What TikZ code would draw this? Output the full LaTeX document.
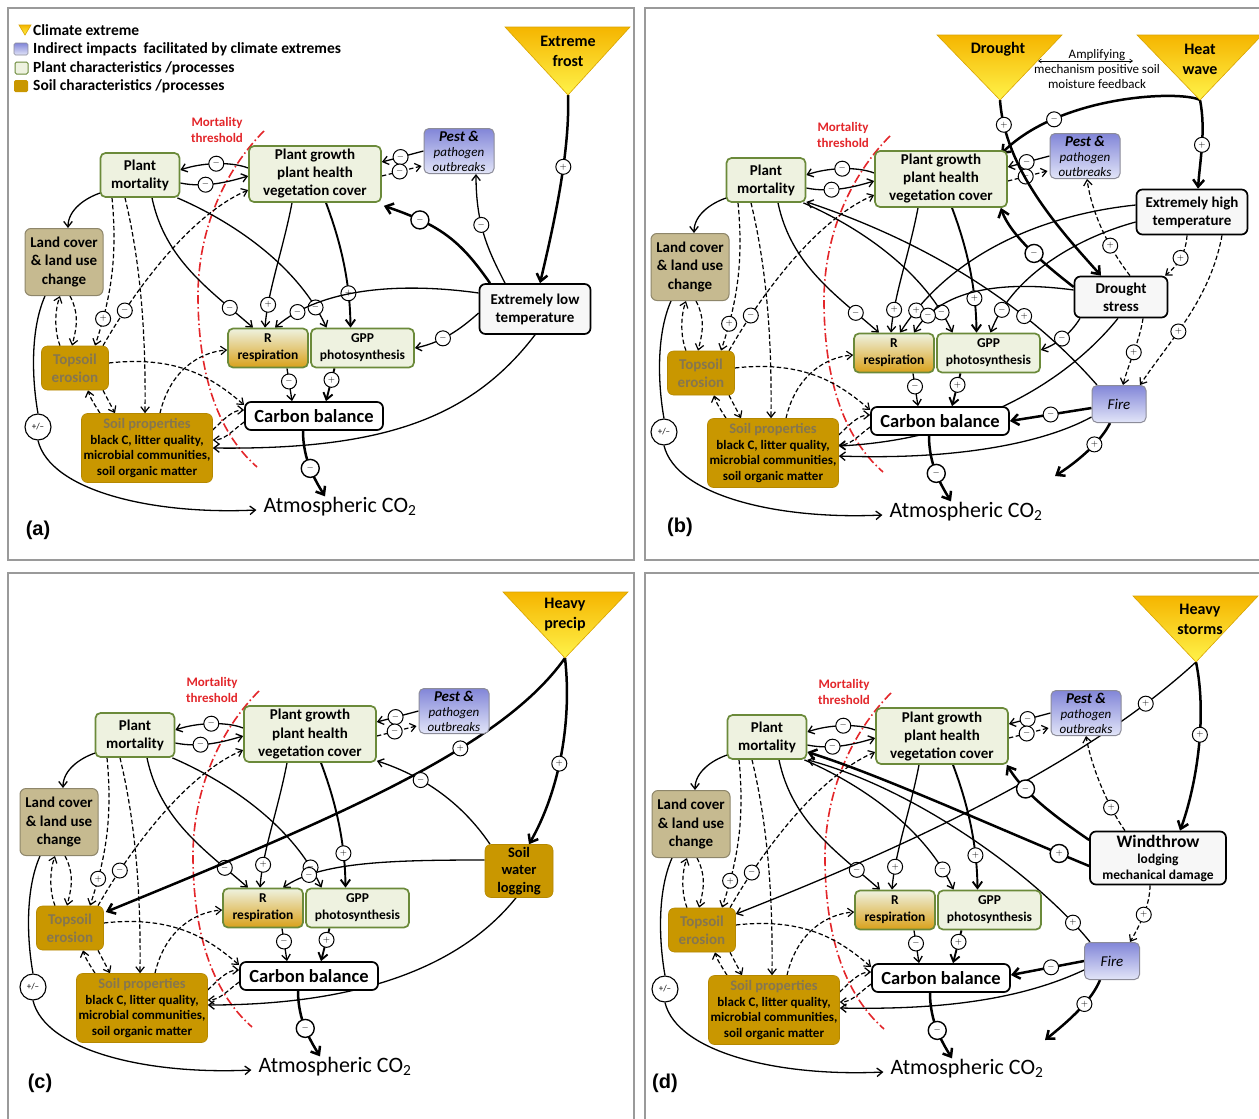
\documentclass[tikz,border=0pt]{standalone}
\usepackage{fontspec}
\setmainfont{Carlito}
\newfontfamily\lblfont{Liberation Sans}
\usetikzlibrary{arrows.meta}
\pgfdeclarelayer{bg}
\pgfsetlayers{bg,main}
\newcommand\fsz[2]{\fontsize{#1}{#2}\selectfont}
\definecolor{plantfill}{HTML}{EEF2E0}
\definecolor{plantdraw}{HTML}{6B8A3A}
\definecolor{soilfill}{HTML}{C99700}
\definecolor{soiltxt}{HTML}{857650}
\definecolor{landfill}{HTML}{C6BA90}
\definecolor{landdraw}{HTML}{8E866A}
\definecolor{pesttop}{HTML}{8286D8}
\definecolor{pestbot}{HTML}{E2E5F8}
\definecolor{pestdraw}{HTML}{8C8C99}
\definecolor{trtop}{HTML}{F5B500}
\definecolor{trbot}{HTML}{FFF34A}
\definecolor{trdraw}{HTML}{D9A400}
\definecolor{mred}{HTML}{E3262A}
\definecolor{rbot}{HTML}{D9A11A}
\definecolor{framec}{HTML}{9A9A9A}
\tikzset{
 plant/.style={draw=plantdraw, line width=1.7pt, fill=plantfill, rounded corners=5pt, align=center, font=\fsz{15}{18}\bfseries, inner sep=1pt},
 respb/.style={plant, fill=none, top color=plantfill, middle color=plantfill, bottom color=rbot},
 soilb/.style={fill=soilfill, draw=soilfill!90!black, line width=0.6pt, rounded corners=6pt, align=center, font=\fsz{15}{18}\bfseries, inner sep=1pt},
 landb/.style={fill=landfill, draw=landdraw, line width=1pt, rounded corners=6pt, align=center, font=\fsz{15}{18.5}\bfseries, inner sep=1pt},
 pestb/.style={top color=pesttop, bottom color=pestbot, draw=pestdraw, line width=1pt, rounded corners=5pt, align=center, font=\fsz{13}{15}, inner sep=0pt},
 whiteb/.style={draw=black, line width=1.7pt, rounded corners=6pt, fill=white!97!black, align=center, font=\fsz{15}{18}\bfseries, inner sep=1pt},
 trtxt/.style={align=center, font=\fsz{16}{20}\bfseries, inner sep=0pt},
 arr/.style={line width=1.3pt, -{Straight Barb[length=5.5pt,width=8.5pt]}},
 darr/.style={arr, line width=1.2pt, dash pattern=on 4.5pt off 2.5pt},
 marr/.style={line width=1.9pt, -{Straight Barb[length=6.5pt,width=9.5pt]}},
 tarr/.style={line width=2.5pt, -{Straight Barb[length=7pt,width=11pt]}},
 ln/.style={line width=1.3pt},
 sgn/.style={circle, draw=black, fill=white, solid, line width=1pt, inner sep=0pt, minimum size=15pt, font=\fsz{9}{9}},
 sgnL/.style={sgn, minimum size=18pt, line width=1.4pt},
 mline/.style={draw=mred, line width=1.6pt, dash pattern=on 9pt off 3pt on 1.5pt off 3pt},
 frame/.style={draw=framec, line width=1.6pt},
 legt/.style={anchor=west, font=\fsz{15.5}{17}\bfseries, inner sep=0pt},
 lbl/.style={font=\lblfont\bfseries\fsz{20}{22}, inner sep=0pt}
}
\newcommand\basepanel[1]{%
 \node[plant,minimum width=79pt,minimum height=44pt] (#1-pm) at (140,175) {Plant\\mortality};
 \node[plant,minimum width=132pt,minimum height=56pt] (#1-pg) at (315,174) {Plant growth\\plant health\\vegetation cover};
 \node[pestb,minimum width=70pt,minimum height=45pt] (#1-pest) at (459,151) {{\fsz{15}{15}\bfseries\itshape Pest \&}\\\textit{pathogen}\\\textit{outbreaks}};
 \node[landb,minimum width=78pt,minimum height=67pt] (#1-lc) at (64,262) {Land cover\\\& land use\\change};
 \node[soilb,text=soiltxt,minimum width=67pt,minimum height=44pt] (#1-te) at (75,368) {Topsoil\\erosion};
 \node[soilb,minimum width=131pt,minimum height=69pt,font=\fsz{13}{15.5}\bfseries] (#1-sp) at (147,448) {{\color{soiltxt}\fsz{14.5}{15.5}Soil properties}\\black C, litter quality,\\microbial communities,\\soil organic matter};
 \node[respb,minimum width=80pt,minimum height=39pt,font=\fsz{13.5}{17}\bfseries] (#1-r) at (268,348) {R\\respiration};
 \node[plant,minimum width=103pt,minimum height=39pt,font=\fsz{13.5}{17}\bfseries] (#1-gpp) at (362.5,348) {GPP\\photosynthesis};
 \node[whiteb,fill=white,minimum width=138pt,minimum height=28pt,font=\fsz{18.5}{20}\bfseries] (#1-cb) at (314,416) {Carbon balance};
 \node[font=\fsz{22}{24},inner sep=1pt] (#1-atm) at (340,507) {Atmospheric CO\textsubscript{2}};
 \node[circle,draw=black,fill=white,line width=1.1pt,minimum size=26pt,inner sep=0pt,font=\fsz{9}{9}] (#1-pmsign) at (38,427) {+/--};
 \node[text=mred,font=\fsz{13}{15.5}\bfseries,align=center,inner sep=0pt] (#1-mt) at (217,130) {Mortality\\threshold};
 \begin{pgfonlayer}{bg}
 \draw[mline] (264,131) .. controls (225,170) and (197,230) .. (198,300) .. controls (199,370) and (215,430) .. (257,467);
 \draw[arr] ([yshift=6pt]#1-pg.west) .. controls (230,161) and (200,163) .. ([yshift=5pt]#1-pm.east) node[sgn,pos=.48]{$-$};
 \draw[arr] ([yshift=-8pt]#1-pm.east) .. controls (205,188) and (228,182) .. ([yshift=-2pt]#1-pg.west) node[sgn,pos=.35]{$-$};
 \draw[arr] ([xshift=1pt,yshift=5pt]#1-pm.south west) .. controls (85,198) and (68,210) .. ([xshift=4pt]#1-lc.north);
 \draw[darr] ([xshift=-28pt]#1-pm.south) .. controls (118,260) and (110,300) .. ([xshift=20pt]#1-te.north) node[sgn,pos=.8]{$+$};
 \draw[darr] ([xshift=-15pt]#1-pm.south) .. controls (140,260) and (146,330) .. ([xshift=-2pt]#1-sp.north);
 \draw[darr] ([xshift=28pt]#1-te.north) .. controls (135,290) and (190,215) .. ([yshift=-16pt]#1-pg.west) node[sgn,pos=.2]{$-$};
 \draw[darr] ([xshift=6pt]#1-lc.south) .. controls (80,315) and (76,330) .. ([xshift=-3pt]#1-te.north);
 \draw[darr] ([xshift=-15pt]#1-te.north) .. controls (54,330) and (55,310) .. ([xshift=-4pt]#1-lc.south);
 \draw[darr] ([xshift=28pt]#1-te.south) -- ([xshift=-32pt]#1-sp.north);
 \draw[darr] ([xshift=-47pt]#1-sp.north) .. controls (95,405) and (90,398) .. ([xshift=13pt]#1-te.south);
 \draw[darr] ([yshift=5pt]#1-te.east) .. controls (180,355) and (215,380) .. ([yshift=11pt]#1-cb.west);
 \draw[darr] ([xshift=13pt]#1-sp.north) .. controls (170,370) and (200,352) .. ([yshift=-2pt]#1-r.west);
 \draw[darr] ([yshift=18pt]#1-sp.east) .. controls (225,418) and (233,410) .. ([yshift=6pt]#1-cb.west);
 \draw[darr] ([yshift=-6pt]#1-cb.west) .. controls (233,430) and (225,440) .. ([yshift=8pt]#1-sp.east);
 \draw[arr] ([xshift=12pt]#1-pm.south) .. controls (165,260) and (210,290) .. ([xshift=-15pt]#1-r.north) node[sgn,pos=.82]{$-$};
 \draw[arr] ([xshift=-3pt]#1-pm.south east) .. controls (240,225) and (300,270) .. ([xshift=-36pt]#1-gpp.north) node[sgn,pos=.88]{$-$};
 \draw[arr] ([xshift=-23pt]#1-pg.south) .. controls (283,250) and (268,290) .. ([xshift=-3pt]#1-r.north) node[sgn,pos=.8]{$+$};
 \draw[marr] ([xshift=11pt]#1-pg.south) .. controls (340,240) and (350,280) .. ([xshift=-12pt]#1-gpp.north) node[sgn,pos=.75]{$+$};
 \draw[arr] ([xshift=19pt]#1-r.south) -- ([xshift=-22pt]#1-cb.north) node[sgn,pos=.4]{$-$};
 \draw[marr] ([xshift=-28pt]#1-gpp.south) -- ([xshift=12pt]#1-cb.north) node[sgn,pos=.35]{$+$};
 \draw[tarr] ([xshift=-11pt]#1-cb.south) .. controls (303,460) and (315,480) .. ([xshift=-15pt]#1-atm.north) node[sgnL,pos=.5]{$-$};
 \draw[ln] ([xshift=-19pt]#1-lc.south) .. controls (30,330) and (32,380) .. (#1-pmsign.north);
 \draw[arr] (#1-pmsign.south) .. controls (50,490) and (150,515) .. ([xshift=-6pt,yshift=-3pt]#1-atm.west);
 \draw[arr] (#1-pest.west) -- ([yshift=12pt]#1-pg.east) node[sgn,pos=.55]{$-$};
 \draw[darr] ([yshift=-2pt]#1-pg.east) -- ([xshift=-2pt,yshift=-15pt]#1-pest.west) node[sgn,pos=.45]{$-$};
 \end{pgfonlayer}
}
\begin{document}
\begin{tikzpicture}[x=1pt,y=-1pt]
\useasboundingbox (0,0) rectangle (1259,1119);
\begin{pgfonlayer}{bg}\fill[white] (0,0) rectangle (1259,1119);\end{pgfonlayer}
\draw[frame] (8,8) rectangle (634,560);
\draw[frame] (645,8) rectangle (1264,560);
\draw[frame] (8,573) rectangle (634,1124);
\draw[frame] (645,573) rectangle (1264,1124);
% legend
\shade[top color=trtop,bottom color=trbot,draw=trdraw,line width=0.6pt] (19,25) -- (31,25) -- (25,35) -- cycle;
\node[legt] (leg1) at (33,30) {Climate extreme};
\shade[top color=pesttop,bottom color=pestbot,draw=pestdraw,line width=0.6pt,rounded corners=1.5pt] (14,43) rectangle (28,55);
\node[legt] (leg2) at (33,49) {Indirect impacts\ \ facilitated by climate extremes};
\draw[fill=plantfill,draw=plantdraw,line width=1pt,rounded corners=1.5pt] (15,62) rectangle (28,74);
\node[legt] (leg3) at (33,68) {Plant characteristics /processes};
\fill[soilfill,rounded corners=1.5pt] (14,80) rectangle (28,92);
\node[legt] (leg4) at (33,86) {Soil characteristics /processes};
% panels
\begin{scope}\basepanel{a}\end{scope}
\begin{scope}[shift={(626,5)}]\basepanel{b}\end{scope}
\begin{scope}[shift={(-5,560)}]\basepanel{c}\end{scope}
\begin{scope}[shift={(627,562)}]\basepanel{d}\end{scope}
\node[lbl] (lbla) at (38,530) {(a)};
\node[lbl] (lblb) at (680,527) {(b)};
\node[lbl] (lblc) at (40,1083) {(c)};
\node[lbl] (lbld) at (665,1083) {(d)};
% ---------- panel a
\shade[top color=trtop,bottom color=trbot,draw=trdraw,line width=0.6pt] (505,27) -- (630,27) -- (568,95) -- cycle;
\node[trtxt] (a-ext) at (568,51) {Extreme\\frost};
\coordinate (a-ap) at (568,95);
\node[whiteb,minimum width=111pt,minimum height=50pt] (a-elt) at (535,309) {Extremely low\\temperature};
\begin{pgfonlayer}{bg}
\draw[tarr] (a-ap) .. controls (570,150) and (555,220) .. ([xshift=5pt]a-elt.north) node[sgn,pos=.4]{$+$};
\draw[tarr] ([xshift=-45pt]a-elt.north) .. controls (460,240) and (440,225) .. ([xshift=2pt,yshift=-3pt]a-pg.south east) node[sgnL,pos=.75]{$-$};
\draw[arr] ([xshift=-30pt]a-elt.north) .. controls (488,250) and (476,225) .. ([xshift=17pt]a-pest.south) node[sgn,pos=.6]{$-$};
\draw[arr] ([yshift=16pt]a-elt.west) .. controls (400,282) and (320,288) .. ([xshift=7pt]a-r.north) node[sgn,pos=.85]{$-$};
\draw[arr] ([yshift=-4pt]a-elt.west) .. controls (465,325) and (445,342) .. (a-gpp.east) node[sgn,pos=.65]{$-$};
\draw[arr] (a-elt.south) .. controls (470,420) and (380,450) .. (a-sp.east);
\end{pgfonlayer}
% ---------- panel b
\shade[top color=trtop,bottom color=trbot,draw=trdraw,line width=0.6pt] (937,35) -- (1062,35) -- (1000,100) -- cycle;
\node[trtxt] (b-drt) at (998,49) {Drought};
\coordinate (b-dr) at (1000,100);
\shade[top color=trtop,bottom color=trbot,draw=trdraw,line width=0.6pt] (1137,35) -- (1262,35) -- (1200,100) -- cycle;
\node[trtxt] (b-hwt) at (1200,59) {Heat\\wave};
\coordinate (b-hw) at (1200,100);
\coordinate (b-amL) at (1038,61);
\coordinate (b-amR) at (1133,61);
\node[font=\fsz{13}{15},align=center,inner sep=0pt] (b-amp) at (1097,69) {Amplifying\\mechanism positive soil\\moisture feedback};
\draw[{Straight Barb[length=3pt,width=4pt]}-{Straight Barb[length=3pt,width=4pt]},line width=.6pt] (b-amL) -- (b-amR);
\node[whiteb,minimum width=111pt,minimum height=45pt] (b-eht) at (1192,212) {Extremely high\\temperature};
\node[whiteb,minimum width=93pt,minimum height=41pt] (b-ds) at (1121,297) {Drought\\stress};
\node[pestb,minimum width=54pt,minimum height=37pt,font=\fsz{15}{15}\itshape] (b-fire) at (1119,404) {Fire};
\coordinate (b-fco) at (1055,476);
\begin{pgfonlayer}{bg}
\draw[tarr] (b-dr) .. controls (1005,170) and (1060,230) .. ([xshift=-20pt]b-ds.north) node[sgn,pos=.12]{$+$};
\draw[tarr] (b-hw) .. controls (1206,130) and (1200,160) .. ([xshift=6pt]b-eht.north) node[sgn,pos=.5]{$+$};
\draw[tarr] (b-hw) .. controls (1180,90) and (1060,95) .. ([xshift=-7pt,yshift=-4pt]b-pg.north east) node[sgn,pos=.75]{$-$};
\draw[tarr] ([yshift=10pt]b-ds.west) .. controls (1045,265) and (1010,235) .. ([xshift=-7pt]b-pg.south east) node[sgnL,pos=.45]{$-$};
\draw[darr] ([xshift=9pt]b-ds.north) .. controls (1110,250) and (1092,215) .. ([xshift=2pt]b-pest.south) node[sgn,pos=.35]{$+$};
\draw[darr] ([xshift=-5pt]b-eht.south) .. controls (1186,255) and (1175,268) .. ([xshift=44pt]b-ds.north) node[sgn,pos=.45]{$+$};
\draw[darr] ([xshift=30pt]b-eht.south) .. controls (1210,300) and (1170,340) .. ([xshift=21pt]b-fire.north) node[sgn,pos=.6]{$+$};
\draw[darr] ([xshift=22pt]b-ds.south) .. controls (1140,340) and (1128,365) .. ([xshift=4pt]b-fire.north) node[sgn,pos=.5]{$+$};
\draw[arr] ([yshift=7pt]b-eht.west) .. controls (1040,215) and (950,255) .. ([xshift=6pt]b-r.north) node[sgn,pos=.9]{$+$};
\draw[arr] ([yshift=-10pt]b-eht.west) .. controls (1070,240) and (1010,280) .. ([xshift=2pt]b-gpp.north) node[sgn,pos=.85]{$-$};
\draw[arr] ([yshift=7pt]b-ds.west) .. controls (1000,280) and (940,290) .. ([xshift=20pt]b-r.north) node[sgn,pos=.85]{$-$};
\draw[arr] ([xshift=-41pt]b-ds.south) .. controls (1070,335) and (1055,345) .. ([yshift=3pt]b-gpp.east) node[sgn,pos=.5]{$-$};
\draw[arr] ([xshift=-3pt]b-ds.south) .. controls (1060,390) and (960,440) .. ([yshift=7pt]b-sp.east);
\draw[tarr] ([yshift=-4pt]b-fire.west) -- (b-cb.east) node[sgn,pos=.5]{$-$};
\draw[arr] ([yshift=-13pt]b-fire.west) .. controls (1040,445) and (950,460) .. ([yshift=-3pt]b-sp.east);
\draw[tarr] ([xshift=-9pt]b-fire.south) .. controls (1102,440) and (1080,460) .. (b-fco) node[sgn,pos=.4]{$+$};
\draw[arr] ([xshift=-22pt]b-fire.north) .. controls (1040,320) and (950,250) .. ([yshift=1pt]b-pm.south east) node[sgn,pos=.35]{$+$};
\end{pgfonlayer}
% ---------- panel c
\shade[top color=trtop,bottom color=trbot,draw=trdraw,line width=0.6pt] (503,592) -- (628,592) -- (565,658) -- cycle;
\node[trtxt] (c-hpt) at (565,615) {Heavy\\precip};
\coordinate (c-ap) at (565,658);
\node[soilb,minimum width=68pt,minimum height=53pt,font=\fsz{14.5}{17.5}\bfseries] (c-swl) at (519,871) {Soil\\water\\logging};
\begin{pgfonlayer}{bg}
\draw[tarr] (c-ap) .. controls (500,750) and (330,820) .. ([xshift=2pt,yshift=16pt]c-te.east) node[sgn,pos=.35]{$+$};
\draw[tarr] (c-ap) .. controls (572,720) and (560,790) .. ([xshift=10pt]c-swl.north) node[sgn,pos=.55]{$+$};
\draw[arr] ([xshift=-29pt]c-swl.north) .. controls (460,800) and (420,775) .. ([yshift=2pt]c-pg.south east) node[sgn,pos=.65]{$-$};
\draw[arr] ([yshift=11pt]c-swl.west) .. controls (390,860) and (320,862) .. ([xshift=20pt]c-r.north) node[sgn,pos=.8]{$-$};
\draw[arr] ([xshift=-3pt]c-swl.south) .. controls (450,980) and (330,1005) .. ([yshift=3pt]c-sp.east);
\end{pgfonlayer}
% ---------- panel d
\shade[top color=trtop,bottom color=trbot,draw=trdraw,line width=0.6pt] (1133,596) -- (1258,596) -- (1196,662) -- cycle;
\node[trtxt] (d-hst) at (1200,619) {Heavy\\storms};
\coordinate (d-ap) at (1196,662);
\node[whiteb,minimum width=136pt,minimum height=53pt,font=\fsz{13.5}{16}\bfseries] (d-wt) at (1158,858) {{\fsz{17.5}{18}Windthrow}\\lodging\\mechanical damage};
\node[pestb,minimum width=55pt,minimum height=37pt,font=\fsz{15}{15}\itshape] (d-fire) at (1112,961) {Fire};
\coordinate (d-fco) at (1045,1040);
\begin{pgfonlayer}{bg}
\draw[tarr] (d-ap) .. controls (1208,720) and (1195,790) .. ([xshift=22pt]d-wt.north) node[sgn,pos=.4]{$+$};
\draw[arr] (d-ap) .. controls (1100,750) and (950,830) .. ([yshift=16pt]d-te.east) node[sgn,pos=.16]{$+$};
\draw[tarr] ([yshift=18pt]d-wt.west) .. controls (1060,820) and (1025,795) .. ([xshift=-2pt]d-pg.south east) node[sgnL,pos=.72]{$-$};
\draw[tarr] ([yshift=-8pt]d-wt.west) .. controls (990,825) and (880,775) .. ([yshift=-15pt]d-pm.east) node[sgnL,pos=.1]{$+$};
\draw[arr] ([xshift=-22pt]d-fire.north) .. controls (1040,880) and (920,790) .. (d-pm.south east) node[sgn,pos=.1]{$+$};
\draw[darr] ([xshift=-33pt]d-wt.north) .. controls (1110,810) and (1092,770) .. (d-pest.south) node[sgn,pos=.3]{$+$};
\draw[darr] ([xshift=-8pt]d-wt.south) .. controls (1150,905) and (1140,925) .. ([xshift=18pt]d-fire.north) node[sgn,pos=.5]{$+$};
\draw[tarr] (d-fire.west) -- ([yshift=3pt]d-cb.east) node[sgn,pos=.45]{$-$};
\draw[arr] ([yshift=-9pt]d-fire.west) .. controls (1020,1000) and (940,1010) .. ([yshift=2pt]d-sp.east);
\draw[tarr] ([xshift=-12pt]d-fire.south) .. controls (1092,1000) and (1070,1020) .. (d-fco) node[sgn,pos=.4]{$+$};
\end{pgfonlayer}
\end{tikzpicture}
\end{document}
